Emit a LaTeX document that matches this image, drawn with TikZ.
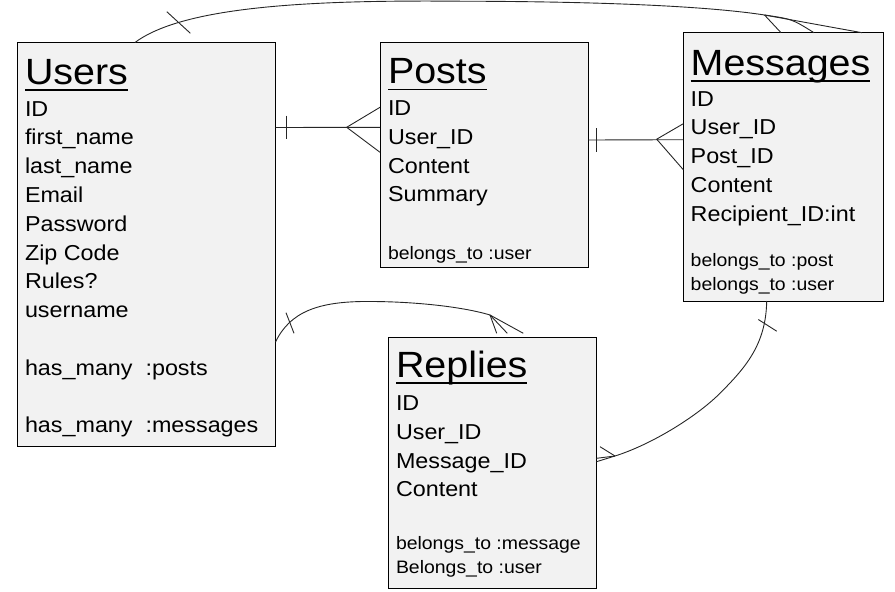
\documentclass[tikz,border=0pt]{standalone}
\usepackage{fontspec}
\setmainfont[FakeStretch=1.08]{Liberation Sans}
\usetikzlibrary{calc}
\definecolor{boxfill}{RGB}{242,242,242}
\begin{document}
\begin{tikzpicture}[x=1pt,y=-1pt,
  entity/.style={draw=black, fill=boxfill, line width=1pt, inner sep=0pt, outer sep=0pt, anchor=north west},
  title/.style={anchor=base west, inner sep=0pt, outer sep=0pt, font=\fontsize{36.5}{40}\selectfont},
  attr/.style={anchor=base west, inner sep=0pt, outer sep=0pt, font=\fontsize{21.6}{28.8}\selectfont},
  note/.style={anchor=base west, inner sep=0pt, outer sep=0pt, font=\fontsize{18}{24}\selectfont},
  ul/.style={line width=1.8pt},
  rel/.style={line width=0.9pt, draw=black!85}]
\useasboundingbox (0,0) rectangle (895,592);

% ---------- entity boxes ----------
\node[entity, minimum width=258pt, minimum height=404.3pt] (users) at (17.5,42.5) {};
\node[entity, minimum width=208.3pt, minimum height=225pt] (posts) at (380,42.3) {};
\node[entity, minimum width=200pt, minimum height=268.3pt] (messages) at (683.3,32.7) {};
\node[entity, minimum width=208.2pt, minimum height=251pt] (replies) at (388.3,337.3) {};

% ---------- Users ----------
\node[title] (userstitle) at (25,84.3) {Users};
\draw[ul] ($(userstitle.base west)+(0,6)$) -- ($(userstitle.base east)+(0,6)$);
\node[attr] (usersbody) at (25,116) {\vtop{\hbox{ID}\hbox{first\_name}\hbox{last\_name}\hbox{Email}\hbox{Password}\hbox{Zip Code}\hbox{Rules?}\hbox{username}\hbox{}\hbox{has\_many\ \ :posts}\hbox{}\hbox{has\_many\ \ :messages}}};

% ---------- Posts ----------
\node[title] (poststitle) at (388,83.5) {Posts};
\draw[ul] ($(poststitle.base west)+(0,6)$) -- ($(poststitle.base east)+(0,6)$);
\node[attr] (postsbody) at (388,115.5) {\vtop{\hbox{ID}\hbox{User\_ID}\hbox{Content}\hbox{Summary}}};
\node[note] (postsnote) at (388,259) {\vtop{\hbox{belongs\_to :user}}};

% ---------- Messages ----------
\node[title] (messagestitle) at (690.7,75) {Messages};
\draw[ul] ($(messagestitle.base west)+(0,6)$) -- ($(messagestitle.base east)+(0,6)$);
\node[attr] (messagesbody) at (690.7,106) {\vtop{\hbox{ID}\hbox{User\_ID}\hbox{Post\_ID}\hbox{Content}\hbox{Recipient\_ID:int}}};
\node[note] (messagesnote) at (690.7,266) {\vtop{\hbox{belongs\_to :post}\hbox{belongs\_to :user}}};

% ---------- Replies ----------
\node[title] (repliestitle) at (396,377.3) {Replies};
\draw[ul] ($(repliestitle.base west)+(0,6)$) -- ($(repliestitle.base east)+(0,6)$);
\node[attr] (repliesbody) at (396,410.5) {\vtop{\hbox{ID}\hbox{User\_ID}\hbox{Message\_ID}\hbox{Content}}};
\node[note] (repliesnote) at (396,549) {\vtop{\hbox{belongs\_to :message}\hbox{Belongs\_to :user}}};

% ---------- Users -- Posts ----------
\coordinate (up1) at ($(users.north east)+(0,85)$);
\coordinate (up2) at ($(posts.north west)+(0,85)$);
\draw[rel] (up1) -- (up2);
\draw[rel] ($(up1)+(11,-12)$) -- ($(up1)+(11,11)$);
\draw[rel] ($(up2)+(0,-20)$) -- ($(up2)+(-33.3,0)$) -- ($(up2)+(0,25)$);

% ---------- Posts -- Messages ----------
\coordinate (pm1) at ($(posts.north east)+(0,97.7)$);
\coordinate (pm2) at ($(messages.north west)+(0,107)$);
\draw[rel] (pm1) -- (pm2);
\draw[rel] ($(pm1)+(8.2,-12)$) -- ($(pm1)+(8.2,12)$);
\draw[rel] ($(pm2)+(0,-16)$) -- ($(pm2)+(-26.6,-0.5)$) -- ($(pm2)+(0,30)$);

% ---------- Users -- Messages (top) ----------
\coordinate (um1) at ($(users.north west)+(117.5,0)$);
\coordinate (um2) at ($(messages.north west)+(178.7,0)$);
\coordinate (umf) at ($(messages.north west)+(81.2,-17.7)$);
\draw[rel] (um1) .. controls (185,5) and (320,0) .. (460,1.2) .. controls (580,1.4) and (700,5) .. (umf) -- (um2);
\draw[rel] (umf) -- ($(messages.north west)+(97.7,0)$);
\draw[rel] (umf) .. controls (792,19) .. ($(messages.north west)+(130.7,0)$);
\draw[rel] ($(um1)+(31.8,-30.8)$) -- ($(um1)+(55.4,-9.2)$);

% ---------- Users -- Replies ----------
\coordinate (ur1) at ($(users.north east)+(0,299.5)$);
\coordinate (urf) at ($(replies.north west)+(101.7,-22.3)$);
\draw[rel] (ur1) .. controls (290,312) and (318,301) .. (370,301.5) .. controls (410,301.5) and (460,306) .. (urf);
\draw[rel] (urf) -- ($(replies.north west)+(108.4,-4)$);
\draw[rel] (urf) -- ($(replies.north west)+(119,-4)$);
\draw[rel] (urf) -- ($(replies.north west)+(135,-4)$);
\draw[rel] ($(ur1)+(10.5,-29.3)$) -- ($(ur1)+(18.5,-8.7)$);

% ---------- Messages -- Replies ----------
\coordinate (mr1) at ($(messages.south west)+(83.4,0)$);
\coordinate (mrf) at ($(replies.north east)+(18.5,118.7)$);
\draw[rel] (mr1) .. controls (766,345) and (745,368) .. (720,393.3) .. controls (695,418) and (650,445) .. (mrf);
\draw[rel] (mrf) -- ($(replies.north east)+(3.5,109.4)$);
\draw[rel] (mrf) -- ($(replies.north east)+(0,121)$);
\draw[rel] (mrf) -- ($(replies.north east)+(0,124.4)$);
\draw[rel] ($(mr1)+(-8.4,18.5)$) -- ($(mr1)+(10,30.2)$);
\end{tikzpicture}
\end{document}
